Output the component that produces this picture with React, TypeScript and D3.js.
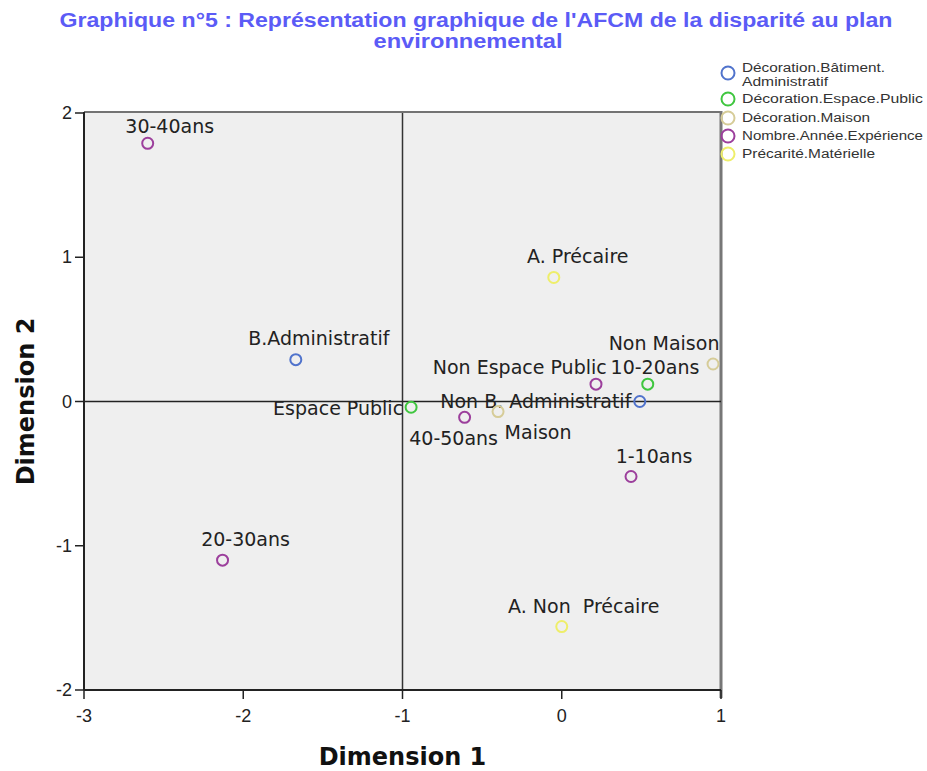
import React from "react";
import * as d3 from "d3";

const W = 927;
const H = 771;

const titleLines = [
  "Graphique n°5 : Représentation graphique de l'AFCM de la disparité au plan",
  "environnemental",
];

const seriesNames = [
  "Décoration.Bâtiment.Administratif",
  "Décoration.Espace.Public",
  "Décoration.Maison",
  "Nombre.Année.Expérience",
  "Précarité.Matérielle",
];
const legendLines = [
  ["Décoration.Bâtiment.", "Administratif"],
  ["Décoration.Espace.Public"],
  ["Décoration.Maison"],
  ["Nombre.Année.Expérience"],
  ["Précarité.Matérielle"],
];
const legendWidths = [
  [143, 86],
  [181],
  [128],
  [181],
  [133],
];
const seriesColors = ["#5073cc", "#3fc63f", "#d6cc98", "#9c3f9c", "#eeee6a"];

// category points
const pointLabels = [
  "B.Administratif",
  "Non B. Administratif",
  "Espace Public",
  "Non Espace Public",
  "Maison",
  "Non Maison",
  "30-40ans",
  "20-30ans",
  "10-20ans",
  "40-50ans",
  "1-10ans",
  "A. Précaire",
  "A. Non  Précaire",
];
const pointSeries = [0, 0, 1, 1, 2, 2, 3, 3, 3, 3, 3, 4, 4];
const dim1 = [-1.67, 0.49, -0.946, 0.54, -0.4, 0.95, -2.6, -2.13, 0.215, -0.61, 0.435, -0.05, 0.0];
const dim2 = [0.29, 0.0, -0.04, 0.12, -0.07, 0.26, 1.79, -1.1, 0.12, -0.11, -0.52, 0.86, -1.56];

// label placement (dx, dy, anchor) relative to point, in px
const labelDx = [23, -104, -8, -128, 40, -49, 22, 23, 59, -11, 23, 24, 22];
const labelDy = [-22, -1, 1, -17, 20, -21, -17, -21, -17, 21, -21, -21, -21];
const labelAnchor = ["middle", "middle", "end", "middle", "middle", "middle", "middle", "middle", "middle", "middle", "middle", "middle", "middle"];

const xTicks = [-3, -2, -1, 0, 1];
const yTicks = [-2, -1, 0, 1, 2];

export default function App() {
  const left = 84, right = 721, top = 113, bottom = 690;
  const x = d3.scaleLinear().domain([-3, 1]).range([left, right]);
  const y = d3.scaleLinear().domain([-2, 2]).range([bottom, top]);
  const font = "'DejaVu Sans', Verdana, sans-serif";
  const lib = "'Liberation Sans', Arial, sans-serif";

  return (
    <svg width={W} height={H} style={{ position: "absolute", left: 0, top: 0, background: "#fff" }}>
      <rect x={0} y={0} width={W} height={H} fill="#fff" />
      {/* title */}
      <text x={476} y={27} textAnchor="middle" fontFamily={lib} fontWeight="bold" fontSize={20} fill="#5b5bf6" textLength={833} lengthAdjust="spacingAndGlyphs">
        {titleLines[0]}
      </text>
      <text x={468} y={48} textAnchor="middle" fontFamily={lib} fontWeight="bold" fontSize={20} fill="#5b5bf6" textLength={189} lengthAdjust="spacingAndGlyphs">
        {titleLines[1]}
      </text>

      {/* plot area */}
      <rect x={left} y={top} width={right - left} height={bottom - top} fill="#efefef" />
      <line x1={left} x2={right} y1={top - 1} y2={top - 1} stroke="#444" strokeWidth={1.5} />
      <line x1={right} x2={right} y1={top - 2} y2={bottom + 8} stroke="#777" strokeWidth={3} />
      {/* reference lines */}
      <line x1={x(-1)} x2={x(-1)} y1={top} y2={bottom} stroke="#333" strokeWidth={1.5} />
      <line x1={left} x2={right} y1={y(0)} y2={y(0)} stroke="#222" strokeWidth={1.5} />

      {/* axes */}
      <line x1={left} x2={left} y1={top - 1} y2={bottom} stroke="#222" strokeWidth={2} />
      <line x1={left} x2={right} y1={bottom} y2={bottom} stroke="#222" strokeWidth={2} />
      {yTicks.map((t) => (
        <g key={"y" + t}>
          <line x1={left - 9} x2={left} y1={y(t)} y2={y(t)} stroke="#222" strokeWidth={1.5} />
          <text x={left - 12} y={y(t) + 6} textAnchor="end" fontFamily={lib} fontSize={18} fill="#222">
            {t}
          </text>
        </g>
      ))}
      {xTicks.map((t) => (
        <g key={"x" + t}>
          <line x1={x(t)} x2={x(t)} y1={bottom} y2={bottom + 9} stroke="#222" strokeWidth={1.5} />
          <text x={x(t)} y={bottom + 32} textAnchor="middle" fontFamily={lib} fontSize={18} fill="#222">
            {t}
          </text>
        </g>
      ))}
      <text x={(left + right) / 2} y={765} textAnchor="middle" fontFamily={font} fontWeight="bold" fontSize={24} fill="#111">
        Dimension 1
      </text>
      <text transform={`translate(34, ${(top + bottom) / 2}) rotate(-90)`} textAnchor="middle" fontFamily={font} fontWeight="bold" fontSize={24} fill="#111">
        Dimension 2
      </text>

      {/* points */}
      {pointLabels.map((lab, i) => (
        <g key={lab}>
          <circle cx={x(dim1[i])} cy={y(dim2[i])} r={5.5} fill="none" stroke={seriesColors[pointSeries[i]]} strokeWidth={2} />
          <text x={x(dim1[i]) + labelDx[i]} y={y(dim2[i]) + labelDy[i] + 7} textAnchor={labelAnchor[i] as any} fontFamily={font} fontSize={19} fill="#222" style={{ whiteSpace: "pre" }}>
            {lab}
          </text>
        </g>
      ))}

      {/* legend */}
      {seriesNames.map((s, i) => {
        const cy = [73, 99, 118, 136, 154][i];
        return (
          <g key={s}>
            <circle cx={728} cy={cy} r={6.5} fill="none" stroke={seriesColors[i]} strokeWidth={2} />
            {legendLines[i].map((ln, j) => (
              <text key={j} x={742} y={cy - (legendLines[i].length > 1 ? 1 : -4) + j * 14} fontFamily={lib} fontSize={12} fill="#333" textLength={legendWidths[i][j]} lengthAdjust="spacingAndGlyphs">
                {ln}
              </text>
            ))}
          </g>
        );
      })}
    </svg>
  );
}
